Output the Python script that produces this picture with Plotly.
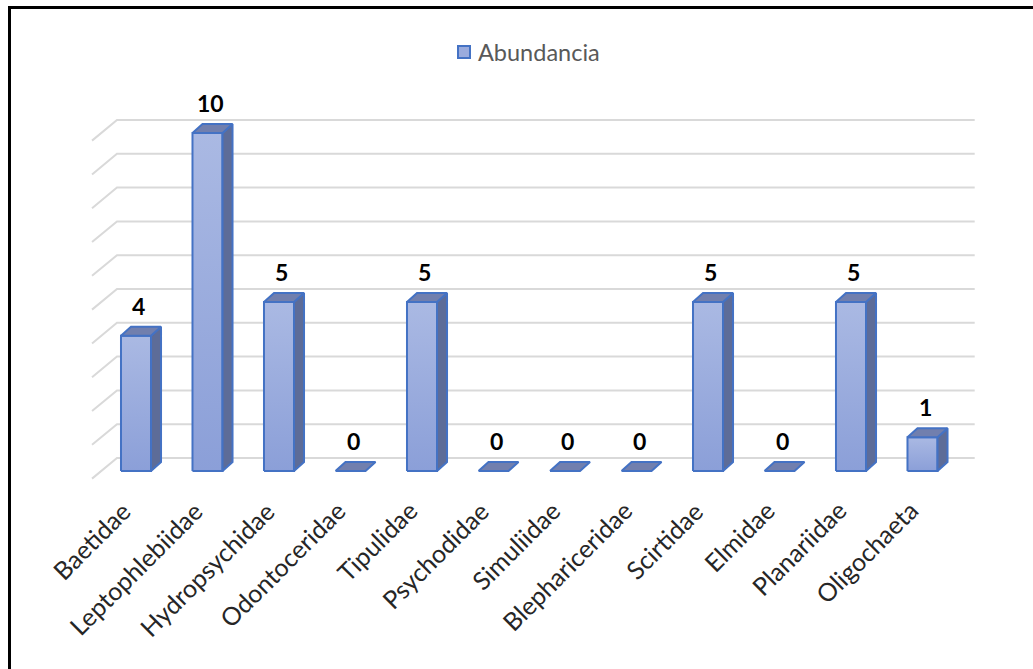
import plotly.graph_objects as go

# Abundance of macroinvertebrate families
families = ["Baetidae", "Leptophlebiidae", "Hydropsychidae", "Odontoceridae",
            "Tipulidae", "Psychodidae", "Simuliidae", "Blephariceridae",
            "Scirtidae", "Elmidae", "Planariidae", "Oligochaeta"]
abundance = [4, 10, 5, 0, 5, 0, 0, 0, 5, 0, 5, 1]
y_ticks = list(range(0, 11))

# pseudo-3D geometry (axis units)
HALF_W = 0.21          # half width of the front face
DEPTH_X = 0.14         # bar depth offset along x
DEPTH_Y = 0.266        # bar depth offset along y
WALL_X0, WALL_X1 = -0.615, -0.266   # side-wall front / back x
WALL_DY = 0.61         # side-wall slope drop
BACK_Y0 = 0.385        # floor height of the back wall
BACK_X1 = 11.73        # right end of back wall

EDGE = "#4472c4"
GRID = "#d9d9d9"

fig = go.Figure()

# back wall + side wall gridlines
for k in y_ticks:
    yb = BACK_Y0 + k
    fig.add_trace(go.Scatter(
        x=[WALL_X0, WALL_X1, BACK_X1], y=[yb - WALL_DY, yb, yb],
        mode="lines", line=dict(color=GRID, width=2),
        hoverinfo="skip", showlegend=False))

for i, (name, v) in enumerate(zip(families, abundance)):
    l, r = i - HALF_W, i + HALF_W
    if v > 0:
        # front face with vertical gradient
        fig.add_trace(go.Scatter(
            x=[l, r, r, l, l], y=[0, 0, v, v, 0], mode="lines",
            fill="toself",
            fillgradient=dict(type="vertical",
                              colorscale=[[0, "#8b9fd8"], [1, "#aab9e3"]]),
            line=dict(color=EDGE, width=2), hoverinfo="skip", showlegend=False))
        # side face
        fig.add_trace(go.Scatter(
            x=[r, r + DEPTH_X, r + DEPTH_X, r, r],
            y=[0, DEPTH_Y, v + DEPTH_Y, v, 0], mode="lines",
            fill="toself", fillcolor="#5d6c98",
            line=dict(color=EDGE, width=2), hoverinfo="skip", showlegend=False))
    # top face
    fig.add_trace(go.Scatter(
        x=[l, r, r + DEPTH_X, l + DEPTH_X, l],
        y=[v, v, v + DEPTH_Y, v + DEPTH_Y, v], mode="lines",
        fill="toself", fillcolor="#717fae",
        line=dict(color=EDGE, width=2), hoverinfo="skip", showlegend=False))
    # value label
    fig.add_annotation(x=i + DEPTH_X / 4, y=v + DEPTH_Y + 0.62, text=str(v),
                       showarrow=False, xanchor="center", yanchor="middle",
                       font=dict(family="Lato", size=23, color="#000000",
                                 weight="bold"))
    # category label
    fig.add_annotation(x=i + 0.03, y=-0.68, text=name, textangle=-45,
                       showarrow=False, xanchor="right", yanchor="top",
                       borderpad=0,
                       font=dict(family="Lato", size=25, color="#262626"))

# legend
fig.add_shape(type="rect", xref="paper", yref="paper",
              x0=458 / 1033, x1=470 / 1033, y0=1 - 58 / 669, y1=1 - 46 / 669,
              fillcolor="#9aabdd", line=dict(color=EDGE, width=2))
fig.add_annotation(xref="paper", yref="paper", x=476 / 1033, y=1 - 52 / 669,
                   text="Abundancia", showarrow=False, xanchor="left",
                   yanchor="middle",
                   font=dict(family="Lato", size=23.5, color="#595959"))

# outer frame (left and top edges)
fig.add_shape(type="line", xref="paper", yref="paper",
              x0=9.5 / 1033, x1=9.5 / 1033, y0=0, y1=1 - 7.5 / 669,
              line=dict(color="black", width=3))
fig.add_shape(type="line", xref="paper", yref="paper",
              x0=8 / 1033, x1=1, y0=1 - 7.5 / 669, y1=1 - 7.5 / 669,
              line=dict(color="black", width=3))

fig.update_layout(
    width=1033, height=669,
    margin=dict(l=0, r=0, t=0, b=0),
    paper_bgcolor="white", plot_bgcolor="white",
    xaxis=dict(range=[-136 / 71.5, (1033 - 136) / 71.5], visible=False,
               fixedrange=True),
    yaxis=dict(range=[(471 - 669) / 33.8, 471 / 33.8], visible=False,
               fixedrange=True),
    showlegend=False,
)

fig.write_html("out.html")
